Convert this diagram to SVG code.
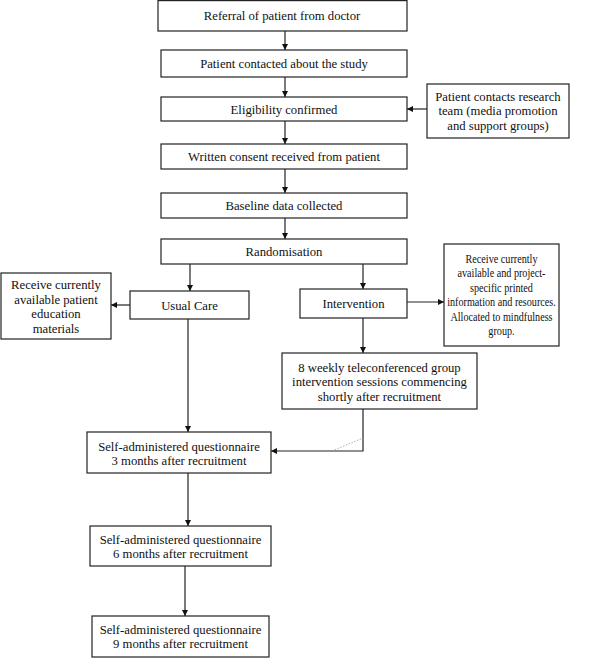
<svg xmlns="http://www.w3.org/2000/svg" width="600" height="658" viewBox="0 0 600 658">
<style>
.box{fill:#fff;stroke:#222;stroke-width:1.2}
text{font-family:"Liberation Serif","Times New Roman",serif;font-size:12.7px;fill:#111;text-anchor:middle}
.ln{stroke:#222;stroke-width:1.2;fill:none}
</style>
<defs>
<marker id="ah" viewBox="0 0 8 8" refX="8" refY="4" markerWidth="6" markerHeight="6" markerUnits="userSpaceOnUse" orient="auto">
<path d="M0,0 L8,4 L0,8 Z" fill="#111"/>
</marker>
</defs>
<rect width="600" height="658" fill="#fff"/>
<g id="connectors">
<line class="ln" x1="285" y1="31" x2="285" y2="50" marker-end="url(#ah)"/>
<line class="ln" x1="285" y1="77" x2="285" y2="97" marker-end="url(#ah)"/>
<line class="ln" x1="427" y1="109" x2="407" y2="109" marker-end="url(#ah)"/>
<line class="ln" x1="285" y1="121" x2="285" y2="144" marker-end="url(#ah)"/>
<line class="ln" x1="285" y1="169" x2="285" y2="193" marker-end="url(#ah)"/>
<line class="ln" x1="285" y1="218" x2="285" y2="239" marker-end="url(#ah)"/>
<line class="ln" x1="190" y1="264" x2="190" y2="291" marker-end="url(#ah)"/>
<line class="ln" x1="363" y1="264" x2="363" y2="289" marker-end="url(#ah)"/>
<line class="ln" x1="130" y1="305" x2="111" y2="305" marker-end="url(#ah)"/>
<line class="ln" x1="407" y1="302" x2="444" y2="302" marker-end="url(#ah)"/>
<line class="ln" x1="363" y1="318" x2="363" y2="353" marker-end="url(#ah)"/>
<line class="ln" x1="188" y1="319" x2="188" y2="432" marker-end="url(#ah)"/>
<polyline class="ln" points="363,409 363,451 271,451" marker-end="url(#ah)"/>
<line x1="332" y1="451" x2="363" y2="438" stroke="#999" stroke-width="0.8" stroke-dasharray="1.5,1.5"/>
<line class="ln" x1="188" y1="473" x2="188" y2="526" marker-end="url(#ah)"/>
<line class="ln" x1="185" y1="566" x2="185" y2="616" marker-end="url(#ah)"/>
</g>
<g id="referral"><rect class="box" x="158" y="0.6" width="249" height="30.4"/><text x="282" y="19.5">Referral of patient from doctor</text></g>
<g id="contacted"><rect class="box" x="161" y="50" width="246" height="27"/><text x="284" y="68">Patient contacted about the study</text></g>
<g id="eligibility"><rect class="box" x="161" y="97" width="246" height="24"/><text x="284" y="113.5">Eligibility confirmed</text></g>
<g id="self-contact"><rect class="box" x="427" y="84" width="142" height="54"/><text x="498" y="100.5">Patient contacts research</text><text x="498" y="115">team (media promotion</text><text x="498" y="129.5">and support groups)</text></g>
<g id="consent"><rect class="box" x="161" y="144" width="246" height="25"/><text x="284" y="161">Written consent received from patient</text></g>
<g id="baseline"><rect class="box" x="161" y="193" width="246" height="25"/><text x="284" y="210">Baseline data collected</text></g>
<g id="randomisation"><rect class="box" x="161" y="239" width="246" height="25"/><text x="284" y="256">Randomisation</text></g>
<g id="usual-care"><rect class="box" x="130" y="291" width="119" height="28"/><text x="189.5" y="309.5">Usual Care</text></g>
<g id="usual-materials"><rect class="box" x="1" y="273" width="110" height="66"/><text x="56" y="289">Receive currently</text><text x="56" y="303.5">available patient</text><text x="56" y="318">education</text><text x="56" y="332.5">materials</text></g>
<g id="intervention"><rect class="box" x="300" y="289" width="107" height="29"/><text x="353.5" y="308">Intervention</text></g>
<g id="intervention-materials"><rect class="box" x="444" y="244" width="115" height="102"/>
<g transform="translate(501.5,0) scale(0.8,1)" font-size="12.4"><text x="0" y="263">Receive currently</text><text x="0" y="277.4">available and project-</text><text x="0" y="291.8">specific printed</text><text x="0" y="306.2">information and resources.</text><text x="0" y="320.6">Allocated to mindfulness</text><text x="0" y="335">group.</text></g></g>
<g id="sessions"><rect class="box" x="282" y="353" width="195" height="56"/><text x="379.5" y="371.5">8 weekly teleconferenced group</text><text x="379.5" y="386">intervention sessions commencing</text><text x="379.5" y="400.5">shortly after recruitment</text></g>
<g id="q3"><rect class="box" x="87" y="432" width="184" height="41"/><text x="179" y="450.5">Self-administered questionnaire</text><text x="179" y="464.5">3 months after recruitment</text></g>
<g id="q6"><rect class="box" x="90" y="526" width="181" height="40"/><text x="180.5" y="543.5">Self-administered questionnaire</text><text x="180.5" y="557.5">6 months after recruitment</text></g>
<g id="q9"><rect class="box" x="92" y="616" width="177" height="41"/><text x="180.5" y="633.5">Self-administered questionnaire</text><text x="180.5" y="647.5">9 months after recruitment</text></g>
</svg>
